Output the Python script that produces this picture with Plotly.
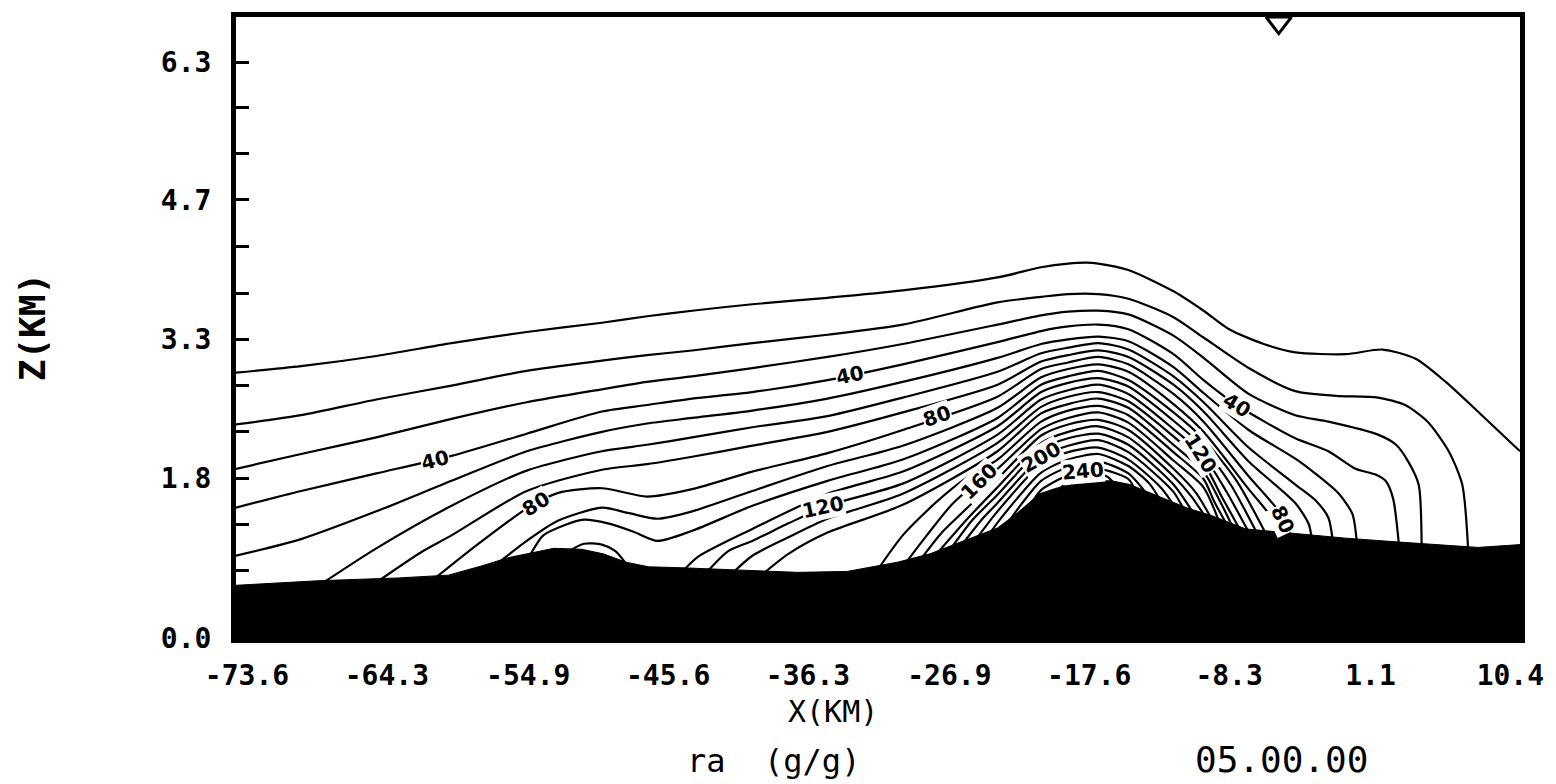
import plotly.graph_objects as go

# ---------------- axis ticks ----------------
x_tick_vals = [-73.6, -64.3, -54.9, -45.6, -36.3, -26.9, -17.6, -8.3, 1.1, 10.4]
x_tick_text = ["-73.6", "-64.3", "-54.9", "-45.6", "-36.3", "-26.9", "-17.6", "-8.3", "1.1", "10.4"]
z_tick_vals = [0.0, 1.73, 3.23, 4.74, 6.23]
z_tick_text = ["0.0", "1.8", "3.3", "4.7", "6.3"]
z_minor_vals = [0.73, 1.23, 2.23, 2.73, 3.73, 4.24, 5.24, 5.74]

# ---------------- terrain (km) ----------------
terrain_x = [-74.33, -71.4, -68.8, -63.5, -60.2, -58.0, -56.2, -54.7, -53.2, -51.35, -49.9, -48.4,
             -46.9, -44.7, -40.3, -37.0, -33.7, -30.35, -28.2, -25.9, -23.7, -22.4, -20.9, -19.8,
             -18.5, -17.1, -16.1, -14.9, -12.7, -11.15, -9.4, -7.2, -3.9, -0.55, 2.8, 6.1, 8.25, 11.04]
terrain_z = [0.57, 0.60, 0.62, 0.65, 0.68, 0.78, 0.87, 0.92, 0.97, 0.96, 0.91, 0.82,
             0.77, 0.76, 0.73, 0.71, 0.72, 0.82, 0.91, 1.05, 1.19, 1.35, 1.56, 1.62,
             1.67, 1.70, 1.70, 1.66, 1.51, 1.41, 1.32, 1.18, 1.13, 1.08, 1.04, 1.00, 0.98, 1.01]

# ---------------- contour lines of ra (x in km, z in km) ----------------
c10_x = [-74.33, -70.0, -65.0, -60.0, -55.0, -50.0, -47.0, -44.0, -40.0, -35.0, -30.0, -23.7, -20.8, -19.0,
         -17.8, -17.0, -15.0, -12.0, -10.0, -8.3, -6.0, -3.9, -0.55, 1.9, 4.1, 6.1, 8.5, 11.04]
c10_z = [2.87, 2.94, 3.05, 3.19, 3.31, 3.41, 3.48, 3.54, 3.61, 3.68, 3.76, 3.90, 4.01, 4.05,
         4.06, 4.05, 3.98, 3.75, 3.54, 3.34, 3.18, 3.09, 3.07, 3.12, 3.02, 2.77, 2.41, 2.02]

c20_x = [-74.33, -70.0, -65.0, -60.0, -55.0, -50.0, -47.0, -44.0, -40.0, -35.0, -30.0, -23.7, -20.8, -19.0,
         -17.0, -15.0, -12.0, -10.0, -7.0, -3.9, -1.2, 1.6, 3.4, 4.9, 6.3, 7.2, 7.6]
c20_z = [2.31, 2.41, 2.58, 2.73, 2.89, 3.00, 3.06, 3.11, 3.19, 3.28, 3.39, 3.63, 3.69, 3.72,
         3.72, 3.67, 3.47, 3.25, 2.92, 2.67, 2.62, 2.60, 2.52, 2.34, 2.02, 1.66, 0.93]

c30_x = [-74.33, -70.0, -65.0, -60.0, -55.0, -50.0, -47.0, -44.0, -40.0, -35.0, -30.0, -23.7, -20.8, -19.0,
         -17.0, -15.0, -12.0, -10.0, -7.0, -3.9, -1.7, 1.6, 2.8, 3.6, 4.3, 4.5]
c30_z = [1.83, 1.99, 2.17, 2.37, 2.55, 2.69, 2.77, 2.83, 2.92, 3.04, 3.18, 3.39, 3.49, 3.53,
         3.54, 3.50, 3.27, 3.03, 2.64, 2.41, 2.34, 2.20, 2.09, 1.91, 1.66, 0.97]

c40_x = [-74.33, -70.0, -65.0, -60.0, -55.0, -50.0, -47.0, -44.0, -40.0, -35.0, -30.0, -23.7, -20.8, -19.0,
         -17.0, -15.0, -12.0, -10.0, -7.8, -3.9, -1.7, 0.1, 1.4, 2.1, 2.6, 3.0]
c40_z = [1.41, 1.59, 1.78, 1.97, 2.21, 2.45, 2.52, 2.59, 2.66, 2.79, 2.96, 3.20, 3.32, 3.37,
         3.39, 3.34, 3.07, 2.79, 2.52, 2.16, 2.02, 1.83, 1.77, 1.70, 1.51, 0.99]

c50_x = [-74.33, -70.0, -65.0, -60.0, -55.0, -50.0, -47.0, -44.0, -40.0, -35.0, -30.0, -23.7, -20.8, -19.0,
         -17.0, -15.0, -12.0, -10.0, -7.0, -3.9, -2.5, -1.0, -0.1, 0.2]
c50_z = [0.89, 1.07, 1.37, 1.70, 2.02, 2.23, 2.32, 2.38, 2.46, 2.59, 2.77, 3.03, 3.18, 3.23,
         3.26, 3.21, 2.93, 2.65, 2.25, 1.94, 1.77, 1.56, 1.34, 1.02]

c60_x = [-68.8, -65.0, -60.0, -55.0, -50.0, -47.0, -44.0, -40.0, -35.0, -30.0, -23.7, -20.8, -19.0,
         -17.0, -15.0, -12.0, -10.0, -7.0, -3.9, -2.5, -1.7, -1.4]
c60_z = [0.57, 0.97, 1.43, 1.81, 2.02, 2.09, 2.17, 2.28, 2.40, 2.60, 2.88, 3.08, 3.14,
         3.19, 3.12, 2.83, 2.55, 2.06, 1.66, 1.48, 1.30, 1.04]

c70_x = [-65.1, -62.1, -60.0, -55.0, -50.0, -47.0, -44.0, -40.0, -35.0, -30.0, -23.7, -20.8, -19.0,
         -17.0, -15.0, -12.0, -10.0, -7.0, -3.9, -3.0, -2.8]
c70_z = [0.59, 0.92, 1.11, 1.59, 1.82, 1.88, 1.96, 2.08, 2.23, 2.44, 2.74, 2.99, 3.06,
         3.11, 3.04, 2.74, 2.45, 1.91, 1.46, 1.23, 1.06]

c80_x = [-61.3, -58.2, -55.0, -52.9, -50.0, -47.0, -44.0, -40.0, -35.0, -30.0, -23.7, -20.8, -19.0,
         -17.0, -15.0, -12.0, -10.0, -7.0, -4.9, -4.1]
c80_z = [0.62, 1.02, 1.40, 1.57, 1.62, 1.53, 1.61, 1.80, 2.00, 2.25, 2.61, 2.91, 2.98,
         3.04, 2.96, 2.64, 2.34, 1.75, 1.35, 1.07]

c90_x = [-57.6, -55.0, -52.9, -50.0, -48.2, -46.3, -44.0, -40.0, -35.0, -30.0, -23.7, -20.8, -19.0,
         -17.0, -15.0, -12.0, -10.0, -7.0, -5.7, -5.0]
c90_z = [0.72, 1.05, 1.27, 1.41, 1.35, 1.29, 1.37, 1.59, 1.86, 2.08, 2.49, 2.82, 2.91,
         2.96, 2.88, 2.53, 2.23, 1.61, 1.35, 1.09]

c100_x = [-54.9, -53.9, -52.5, -51.2, -49.6, -47.9, -46.3, -44.0, -40.0, -35.0, -30.0, -23.7, -20.8,
          -19.0, -17.0, -15.0, -12.0, -10.0, -7.8, -5.8]
c100_z = [0.86, 1.11, 1.22, 1.28, 1.24, 1.15, 1.05, 1.16, 1.43, 1.70, 1.93, 2.38, 2.74,
          2.83, 2.89, 2.79, 2.44, 2.15, 1.70, 1.11]

c110a_x = [-52.5, -51.2, -50.0, -49.1, -48.2]
c110a_z = [0.91, 1.02, 1.01, 0.94, 0.76]

c110_x = [-44.7, -43.6, -40.0, -35.0, -30.0, -23.7, -20.8, -19.0, -17.0, -15.0, -12.0, -10.0, -8.2, -6.4]
c110_z = [0.71, 0.88, 1.18, 1.56, 1.80, 2.29, 2.66, 2.76, 2.81, 2.72, 2.35, 2.06, 1.66, 1.12]

c120_x = [-43.1, -41.6, -40.0, -37.6, -35.0, -30.0, -23.7, -20.8, -19.0, -17.0, -15.0, -12.0, -10.0, -8.5, -6.95]
c120_z = [0.70, 0.94, 1.05, 1.24, 1.43, 1.67, 2.20, 2.58, 2.68, 2.74, 2.64, 2.26, 1.97, 1.59, 1.13]

c130_x = [-41.4, -40.0, -37.6, -35.0, -30.0, -23.7, -20.8, -19.0, -17.0, -15.0, -12.0, -10.0, -8.8, -7.5]
c130_z = [0.69, 0.89, 1.09, 1.29, 1.56, 2.11, 2.50, 2.61, 2.66, 2.56, 2.18, 1.89, 1.53, 1.15]

c140_x = [-39.4, -37.6, -35.0, -30.0, -23.7, -20.8, -19.0, -17.0, -15.0, -12.0, -10.0, -9.0, -8.0]
c140_z = [0.68, 0.91, 1.14, 1.44, 2.02, 2.43, 2.53, 2.59, 2.49, 2.09, 1.80, 1.51, 1.18]

c150_x = [-31.7, -30.0, -27.7, -25.7, -23.7, -20.8, -19.0, -17.0, -15.0, -12.0, -10.0, -9.3, -8.4]
c150_z = [0.73, 1.11, 1.48, 1.74, 1.93, 2.34, 2.46, 2.51, 2.41, 2.01, 1.72, 1.48, 1.21]

c160_x = [-30.0, -28.4, -26.7, -24.9, -23.7, -20.8, -19.0, -17.0, -15.0, -12.0, -10.0, -8.9]
c160_z = [0.77, 1.11, 1.45, 1.70, 1.83, 2.26, 2.38, 2.44, 2.33, 1.92, 1.63, 1.23]

c170_x = [-28.9, -27.4, -26.4, -23.7, -20.8, -19.0, -17.0, -15.0, -12.0, -10.5, -9.4]
c170_z = [0.83, 1.14, 1.30, 1.72, 2.19, 2.31, 2.36, 2.25, 1.83, 1.57, 1.27]

c180_x = [-27.9, -25.7, -23.7, -20.8, -19.0, -17.0, -15.0, -12.0, -10.8, -9.8]
c180_z = [0.88, 1.29, 1.63, 2.11, 2.23, 2.29, 2.17, 1.75, 1.53, 1.29]

c190_x = [-27.0, -25.4, -23.7, -20.8, -19.0, -17.0, -15.0, -12.0, -10.6]
c190_z = [0.92, 1.27, 1.55, 2.04, 2.16, 2.21, 2.09, 1.66, 1.33]

c200_x = [-26.2, -24.7, -23.7, -20.8, -19.0, -17.0, -15.0, -12.0, -11.2]
c200_z = [0.98, 1.29, 1.46, 1.96, 2.08, 2.14, 2.01, 1.58, 1.35]

c210_x = [-25.3, -23.7, -20.8, -19.0, -17.0, -15.0, -12.8, -11.8]
c210_z = [1.03, 1.37, 1.88, 2.01, 2.06, 1.93, 1.62, 1.39]

c220_x = [-24.4, -23.4, -20.8, -19.0, -17.0, -15.0, -13.6, -12.8]
c220_z = [1.09, 1.31, 1.79, 1.93, 1.99, 1.86, 1.67, 1.47]

c230_x = [-23.2, -22.1, -20.8, -19.0, -17.0, -15.0, -13.6]
c230_z = [1.20, 1.45, 1.70, 1.85, 1.91, 1.78, 1.52]

c240_x = [-21.7, -20.8, -19.0, -17.0, -15.0, -14.5]
c240_z = [1.39, 1.60, 1.76, 1.83, 1.72, 1.58]

c250_x = [-19.9, -19.0, -17.8, -16.45, -15.7]
c250_z = [1.56, 1.69, 1.75, 1.75, 1.62]

# ---------------- contour labels ----------------
label_text = ["40", "40", "40", "80", "80", "80", "120", "120", "160", "200", "240"]
label_x = [-61.1, -33.5, -7.8, -54.4, -27.7, -4.7, -35.3, -10.2, -24.9, -20.8, -18.0]
label_z = [1.93, 2.84, 2.52, 1.45, 2.40, 1.28, 1.42, 2.00, 1.70, 1.96, 1.81]
label_angle = [-14, -12, 32, -32, -19, 65, -12, 58, -45, -30, -5]

# ---------------- station marker ----------------
station_x = [-5.0]
station_z = [6.657]

contours = [
    (c10_x, c10_z), (c20_x, c20_z), (c30_x, c30_z), (c40_x, c40_z), (c50_x, c50_z),
    (c60_x, c60_z), (c70_x, c70_z), (c80_x, c80_z), (c90_x, c90_z), (c100_x, c100_z),
    (c110a_x, c110a_z), (c110_x, c110_z), (c120_x, c120_z), (c130_x, c130_z), (c140_x, c140_z),
    (c150_x, c150_z), (c160_x, c160_z), (c170_x, c170_z), (c180_x, c180_z), (c190_x, c190_z),
    (c200_x, c200_z), (c210_x, c210_z), (c220_x, c220_z), (c230_x, c230_z), (c240_x, c240_z),
    (c250_x, c250_z),
]

fig = go.Figure()
for cx, cz in contours:
    fig.add_trace(go.Scatter(x=cx, y=cz, mode="lines",
                             line=dict(color="black", width=2.2, shape="spline", smoothing=0.7),
                             hoverinfo="skip"))

fig.add_trace(go.Scatter(x=terrain_x, y=terrain_z, mode="lines", fill="tozeroy",
                         fillcolor="black", line=dict(color="black", width=1), hoverinfo="skip"))

fig.add_trace(go.Scatter(x=station_x, y=station_z, mode="markers",
                         marker=dict(symbol="triangle-down-open", size=22, color="black",
                                     line=dict(width=3, color="black")),
                         hoverinfo="skip"))

for t, lx, lz, ang in zip(label_text, label_x, label_z, label_angle):
    fig.add_annotation(x=lx, y=lz, xref="x", yref="y", text=t, showarrow=False,
                       textangle=ang, bgcolor="white", borderpad=0,
                       font=dict(family="DejaVu Sans", size=20, color="black", weight="bold"))

mono = "DejaVu Sans Mono"
fig.add_annotation(x=-0.1583, y=0.50, xref="paper", yref="paper", text="Z(KM)", showarrow=False,
                   textangle=-90, xanchor="center", yanchor="middle",
                   font=dict(family=mono, size=36, color="black", weight="bold"))
fig.add_annotation(x=0.4647, y=-0.118, xref="paper", yref="paper", text="X(KM)", showarrow=False,
                   xanchor="center", yanchor="middle",
                   font=dict(family=mono, size=30, color="black"))
fig.add_annotation(x=0.419, y=-0.198, xref="paper", yref="paper", text="ra  (g/g)", showarrow=False,
                   xanchor="center", yanchor="middle",
                   font=dict(family=mono, size=32, color="black"))
fig.add_annotation(x=0.814, y=-0.195, xref="paper", yref="paper", text="05.00.00", showarrow=False,
                   xanchor="center", yanchor="middle",
                   font=dict(family=mono, size=36, color="black"))

fig.update_layout(
    width=1556, height=784,
    margin=dict(l=236, r=31, t=12, b=146),
    paper_bgcolor="white", plot_bgcolor="white",
    showlegend=False,
    xaxis=dict(range=[-74.33, 11.04], tickmode="array", tickvals=x_tick_vals, ticktext=x_tick_text,
               ticks="", showgrid=False, zeroline=False, showline=True, linecolor="black",
               linewidth=5, mirror=True, ticklabelstandoff=8,
               tickfont=dict(family=mono, size=28, color="black", weight="bold")),
    yaxis=dict(range=[0, 6.717], tickmode="array", tickvals=z_tick_vals, ticktext=z_tick_text,
               ticks="inside", ticklen=13, tickwidth=3, tickcolor="black",
               minor=dict(tickmode="array", tickvals=z_minor_vals, ticks="inside",
                          ticklen=13, tickwidth=3, tickcolor="black", showgrid=False),
               showgrid=False, zeroline=False, showline=True, linecolor="black",
               linewidth=5, mirror=True, ticklabelstandoff=14,
               tickfont=dict(family=mono, size=28, color="black", weight="bold")),
)

fig.write_html("out.html", config={"displayModeBar": False},
               post_script="document.body.style.margin='0px';document.body.style.overflow='hidden';")
